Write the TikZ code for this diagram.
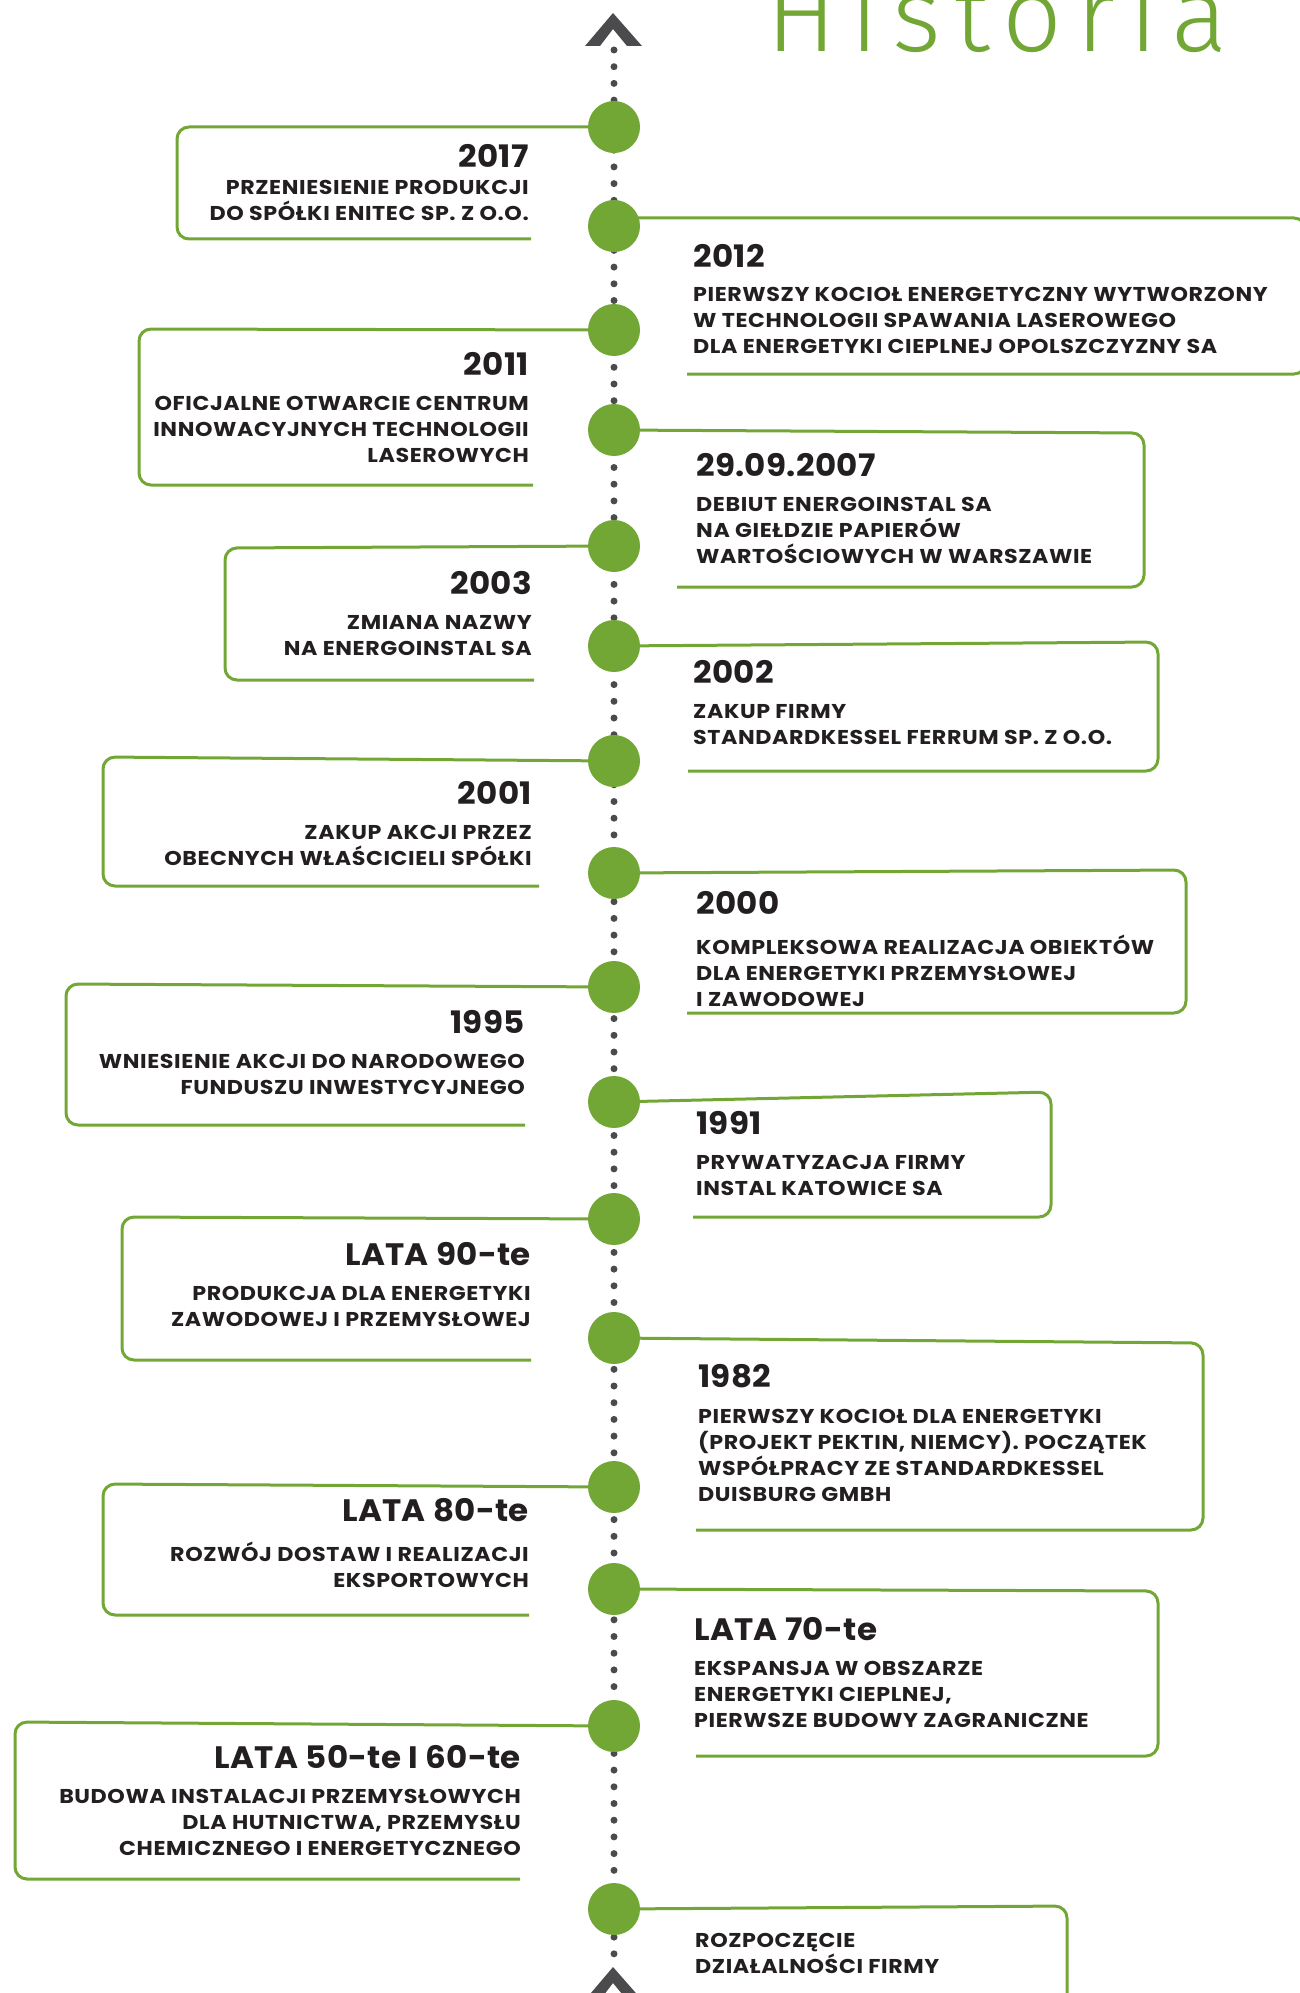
\documentclass[tikz,border=0pt]{standalone}
\usepackage{fontspec}
\usepackage{tikz}
\setmainfont{Poppins}
\newfontfamily\titlefont{Fira Sans Light}[LetterSpace=13]
\newfontfamily\bodyfont{Poppins}[FakeStretch=1.11, LetterSpace=3]
\newfontfamily\yearfont{Poppins}[FakeStretch=1.05, LetterSpace=1]
\definecolor{hgreen}{RGB}{114,167,53}
\definecolor{ink}{RGB}{35,31,32}
\definecolor{spinegray}{RGB}{75,75,77}

\begin{document}
\begin{tikzpicture}[x=1pt, y=-1pt,
    boxline/.style={draw=hgreen, line width=3pt, rounded corners=12pt},
    milestone/.style={circle, fill=hgreen, minimum size=52pt, inner sep=0pt},
    yearL/.style={anchor=base east, inner sep=0pt, text=ink, font=\yearfont\fontsize{31}{31}\selectfont\bfseries},
    yearR/.style={anchor=base west, inner sep=0pt, text=ink, font=\yearfont\fontsize{31}{31}\selectfont\bfseries},
    descL/.style={anchor=north east, inner sep=0pt, align=right, text=ink, font=\bodyfont\fontsize{20}{26}\selectfont\bfseries, execute at begin node=\strut},
    descR/.style={anchor=north west, inner sep=0pt, align=left, text=ink, font=\bodyfont\fontsize{20}{26}\selectfont\bfseries, execute at begin node=\strut}]
        \useasboundingbox (0,0) rectangle (1300,1993);

        % title
        \node[anchor=base west, inner sep=0pt, text=hgreen, font=\titlefont\fontsize{105}{105}\selectfont] (title) at (766,52) {Historia};

        % points on the time line
        \coordinate (p1) at (614,127);
        \coordinate (p2) at (614,226);
        \coordinate (p3) at (614,330);
        \coordinate (p4) at (614,430);
        \coordinate (p5) at (614,546);
        \coordinate (p6) at (614,646);
        \coordinate (p7) at (614,761);
        \coordinate (p8) at (614,873);
        \coordinate (p9) at (614,987);
        \coordinate (p10) at (614,1102);
        \coordinate (p11) at (614,1219);
        \coordinate (p12) at (614,1338);
        \coordinate (p13) at (614,1487);
        \coordinate (p14) at (614,1589);
        \coordinate (p15) at (614,1726);
        \coordinate (p16) at (614,1909);
        \coordinate (top) at (614,50);
        \coordinate (bottom) at (614,1962);

        % dotted spine and chevrons
        \draw[spinegray, line width=7pt, line cap=round, dash pattern=on 0pt off 16.7pt] (top) -- (bottom);
        \fill[spinegray] (613,13) -- (642,46) -- (627,46) -- (613,29) -- (600,46) -- (585,46) -- cycle;
        \fill[spinegray] (613,1967) -- (642,2000) -- (627,2000) -- (613,1983) -- (600,2000) -- (585,2000) -- cycle;

        % frames on the left
        \draw[boxline] (p1) -- (177,127) -- (177,239) -- (531,239);
        \draw[boxline] (p3) -- (139,329) -- (139,485) -- (533,485);
        \draw[boxline] (p5) -- (225,548) -- (225,680) -- (534,680);
        \draw[boxline] (p7) -- (103,757) -- (103,886) -- (539,886);
        \draw[boxline] (p9) -- (66,984) -- (66,1125) -- (525,1125);
        \draw[boxline] (p11) -- (122,1217) -- (122,1360) -- (531,1360);
        \draw[boxline] (p13) -- (103,1484) -- (103,1615) -- (529,1615);
        \draw[boxline] (p15) -- (15,1722) -- (15,1879) -- (520,1879);

        % frames on the right
        \draw[boxline] (p2) -- (614,218) -- (1306,218) -- (1306,374) -- (687,374);
        \draw[boxline] (p4) -- (1144,433) -- (1144,587) -- (677,587);
        \draw[boxline] (p6) -- (1158,642) -- (1158,771) -- (688,771);
        \draw[boxline] (p8) -- (1186,870) -- (1186,1013) -- (687,1013);
        \draw[boxline] (p10) -- (1051,1092) -- (1051,1217) -- (693,1217);
        \draw[boxline] (p12) -- (1203,1343) -- (1203,1530) -- (696,1530);
        \draw[boxline] (p14) -- (1158,1591) -- (1158,1756) -- (696,1756);
        \draw[boxline] (p16) -- (1067,1906) -- (1067,2020) -- (696,2020);

        % circles
        \foreach \i in {1,...,16}
            \node[milestone] (c\i) at (p\i) {};

        % texts on the left
        \node[yearL] (y2017) at (529,168) {2017};
        \node[descL] (t2017) at (529,180) {PRZENIESIENIE PRODUKCJI\\DO SPÓŁKI ENITEC SP. Z O.O.};
        \node[yearL] (y2011) at (529,375) {2011};
        \node[descL] (t2011) at (529,396) {OFICJALNE OTWARCIE CENTRUM\\INNOWACYJNYCH TECHNOLOGII\\LASEROWYCH};
        \node[yearL] (y2003) at (532,594) {2003};
        \node[descL] (t2003) at (532,615) {ZMIANA NAZWY\\NA ENERGOINSTAL SA};
        \node[yearL] (y2001) at (532,804) {2001};
        \node[descL] (t2001) at (532,825) {ZAKUP AKCJI PRZEZ\\OBECNYCH WŁAŚCICIELI SPÓŁKI};
        \node[yearL] (y1995) at (525,1033) {1995};
        \node[descL] (t1995) at (525,1054) {WNIESIENIE AKCJI DO NARODOWEGO\\FUNDUSZU INWESTYCYJNEGO};
        \node[yearL] (y90) at (531,1265) {LATA 90-te};
        \node[descL] (t90) at (531,1286) {PRODUKCJA DLA ENERGETYKI\\ZAWODOWEJ I PRZEMYSŁOWEJ};
        \node[yearL] (y80) at (529,1521) {LATA 80-te};
        \node[descL] (t80) at (529,1542) {ROZWÓJ DOSTAW I REALIZACJI\\EKSPORTOWYCH};
        \node[yearL] (y50) at (521,1768) {LATA 50-te I 60-te};
        \node[descL] (t50) at (521,1789) {BUDOWA INSTALACJI PRZEMYSŁOWYCH\\DLA HUTNICTWA, PRZEMYSŁU\\CHEMICZNEGO I ENERGETYCZNEGO};

        % texts on the right
        \node[yearR] (y2012) at (693,267) {2012};
        \node[descR] (t2012) at (693,287) {PIERWSZY KOCIOŁ ENERGETYCZNY WYTWORZONY\\W TECHNOLOGII SPAWANIA LASEROWEGO\\DLA ENERGETYKI CIEPLNEJ OPOLSZCZYZNY SA};
        \node[yearR] (y2007) at (696,476) {29.09.2007};
        \node[descR] (t2007) at (696,497) {DEBIUT ENERGOINSTAL SA\\NA GIEŁDZIE PAPIERÓW\\WARTOŚCIOWYCH W WARSZAWIE};
        \node[yearR] (y2002) at (693,683) {2002};
        \node[descR] (t2002) at (693,704) {ZAKUP FIRMY\\STANDARDKESSEL FERRUM SP. Z O.O.};
        \node[yearR] (y2000) at (696,914) {2000};
        \node[descR] (t2000) at (696,935) {KOMPLEKSOWA REALIZACJA OBIEKTÓW\\DLA ENERGETYKI PRZEMYSŁOWEJ\\I ZAWODOWEJ};
        \node[yearR] (y1991) at (696,1134) {1991};
        \node[descR] (t1991) at (696,1155) {PRYWATYZACJA FIRMY\\INSTAL KATOWICE SA};
        \node[yearR] (y1982) at (698,1387) {1982};
        \node[descR] (t1982) at (698,1409) {PIERWSZY KOCIOŁ DLA ENERGETYKI\\(PROJEKT PEKTIN, NIEMCY). POCZĄTEK\\WSPÓŁPRACY ZE STANDARDKESSEL\\DUISBURG GMBH};
        \node[yearR] (y70) at (694,1640) {LATA 70-te};
        \node[descR] (t70) at (694,1661) {EKSPANSJA W OBSZARZE\\ENERGETYKI CIEPLNEJ,\\PIERWSZE BUDOWY ZAGRANICZNE};
        \node[descR] (tstart) at (695,1933) {ROZPOCZĘCIE\\DZIAŁALNOŚCI FIRMY};
    \end{tikzpicture}
\end{document}
